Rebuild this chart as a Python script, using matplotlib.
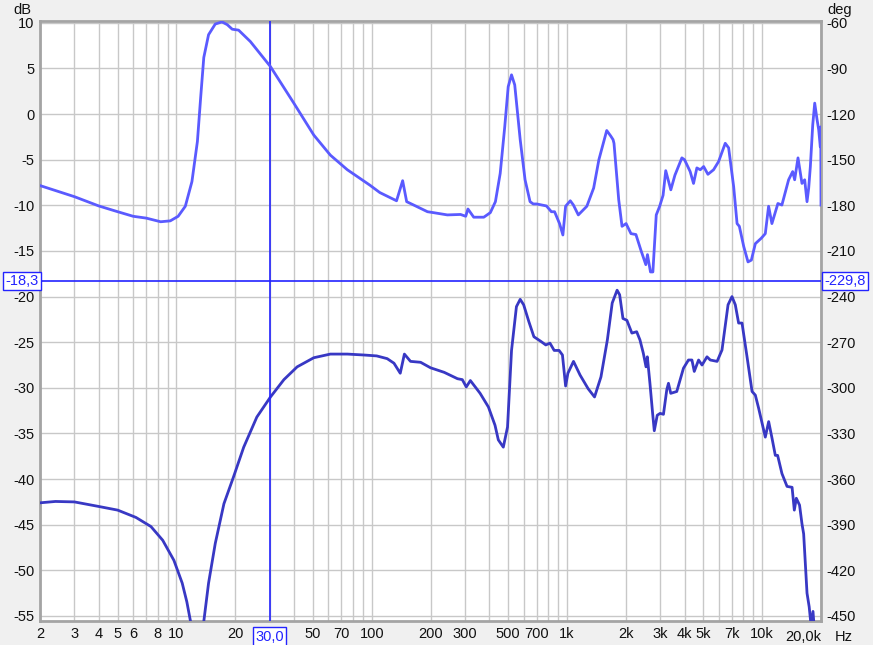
import matplotlib
matplotlib.use("Agg")
from matplotlib import pyplot as plt

# lower trace: magnitude (dB, left axis)
spl_freq = [2.0, 2.4, 3.0, 4.0, 5.0, 6.2, 7.4, 8.5, 9.7, 10.7, 11.3, 11.9, 12.3, 13.2, 13.8,
            14.6, 15.8, 17.5, 19.6, 22.1, 25.8, 30.3, 35.5, 41.5, 50.5, 61.4, 75, 91, 106, 120,
            130, 140, 147, 158, 178, 200, 235, 275, 291, 305, 320, 359, 396, 428, 445, 472,
            496, 520, 551, 576, 600, 638, 677, 734, 779, 818, 860, 911, 948, 984, 1011, 1080,
            1167, 1284, 1384, 1493, 1610, 1705, 1806, 1861, 1935, 2027, 2150, 2275, 2365,
            2460, 2540, 2580, 2660, 2746, 2800, 2900, 3000, 3120, 3245, 3310, 3400, 3650,
            3950, 4190, 4365, 4487, 4721, 4917, 5213, 5420, 5874, 6223, 6683, 7000, 7280,
            7570, 7880, 8360, 8870, 9220, 9590, 10370, 10790, 11220, 11670, 11990, 12620,
            13400, 14220, 14600, 14950, 15530, 15980, 16300, 16960, 17400, 17780, 18200,
            18490, 18600]
spl_db = [-42.6, -42.45, -42.5, -43.0, -43.4, -44.2, -45.2, -46.7, -48.9, -51.4, -53.45, -56.0,
          -60.0, -60.0, -55.6, -51.4, -47.05, -42.7, -39.75, -36.5, -33.2, -31.0, -29.1, -27.7,
          -26.7, -26.3, -26.3, -26.4, -26.5, -26.8, -27.3, -28.4, -26.3, -27.1, -27.2, -27.8,
          -28.3, -29.0, -29.1, -29.9, -29.2, -30.6, -32.1, -34.1, -35.7, -36.5, -34.3, -25.9,
          -21.1, -20.3, -20.9, -22.75, -24.4, -24.9, -25.3, -25.1, -25.9, -25.9, -26.4, -29.8,
          -28.4, -27.1, -28.6, -30.1, -31.0, -28.8, -24.75, -20.7, -19.3, -19.8, -22.4, -22.6,
          -24.0, -23.85, -24.75, -26.2, -27.7, -26.6, -29.5, -32.8, -34.7, -33.0, -32.8, -32.9,
          -30.2, -29.5, -30.6, -30.4, -27.85, -26.95, -26.95, -28.2, -26.95, -27.5, -26.6,
          -26.95, -27.1, -25.85, -20.9, -20.0, -20.9, -22.9, -22.9, -26.6, -30.4, -30.8, -32.25,
          -35.4, -33.7, -35.5, -37.4, -37.4, -39.4, -40.8, -40.9, -43.4, -42.1, -42.85, -44.9,
          -46.0, -52.5, -54.0, -56.0, -54.5, -56.5, -60.0]

# upper trace: phase (deg, right axis)
phase_freq = [2.0, 3.0, 4.0, 5.0, 6.0, 7.0, 8.3, 9.3, 10.2, 11.1, 12.0, 12.8, 13.3, 13.8, 14.6,
              15.8, 17.1, 18.2, 19.3, 20.8, 23.9, 30.3, 39.9, 50.5, 61.4, 75, 98, 110, 134, 144,
              151, 164, 193, 207, 244, 285, 303, 311, 333, 375, 405, 430, 455, 480, 500, 520,
              540, 576, 610, 647, 672, 700, 785, 832, 864, 916, 953, 984, 1040, 1079, 1143,
              1264, 1370, 1457, 1517, 1598, 1675, 1722, 1741, 1841, 1914, 2008, 2127, 2255,
              2390, 2534, 2584, 2677, 2754, 2866, 2984, 3106, 3205, 3403, 3571, 3877, 4000,
              4275, 4448, 4627, 4817, 5012, 5271, 5634, 5978, 6466, 6729, 7140, 7433, 7636,
              8038, 8456, 8798, 9220, 9891, 10370, 10780, 11210, 12030, 12610, 13650, 14320,
              14660, 15250, 15980, 16500, 16960, 17300, 17640, 18140, 18570, 19090, 19460,
              19840, 19950, 20000]
phase_deg = [-167.0, -174.3, -180.4, -184.2, -187.2, -188.4, -190.8, -190.2, -187.2, -180.6,
             -164.4, -138.0, -109.2, -82.8, -67.8, -60.8, -59.4, -61.2, -64.2, -64.8, -72.3,
             -88.8, -112.8, -133.8, -147.0, -156.6, -166.8, -171.6, -177.0, -163.8, -177.6,
             -179.8, -184.2, -184.8, -186.3, -186.0, -187.2, -182.4, -187.8, -187.8, -184.8,
             -177.6, -159.0, -128.4, -102.0, -94.2, -100.8, -136.8, -163.2, -177.6, -179.1,
             -179.1, -180.4, -184.2, -184.2, -192.0, -199.5, -180.6, -177.0, -179.8, -186.3,
             -180.6, -168.6, -150.0, -141.6, -130.8, -134.4, -136.8, -139.2, -176.4, -193.8,
             -192.0, -198.6, -199.2, -209.4, -219.0, -212.4, -223.8, -223.8, -186.3, -180.6,
             -173.4, -157.2, -169.8, -160.2, -148.8, -150.0, -157.8, -165.6, -155.4, -156.6,
             -154.5, -159.6, -156.6, -151.2, -139.2, -142.2, -167.7, -192.0, -193.8, -207.0,
             -217.2, -216.0, -205.2, -201.6, -198.6, -180.6, -192.0, -178.8, -179.8, -163.2,
             -157.8, -163.2, -148.8, -165.6, -163.2, -177.6, -168.6, -154.5, -127.2, -112.8,
             -123.6, -130.2, -141.6, -128.4, -179.8]

x_ticks = [2, 3, 4, 5, 6, 8, 10, 20, 50, 70, 100, 200, 300, 500, 700,
           1000, 2000, 3000, 4000, 5000, 7000, 10000]
x_labels = ["2", "3", "4", "5", "6", "8", "10", "20", "50", "70", "100", "200", "300", "500",
            "700", "1k", "2k", "3k", "4k", "5k", "7k", "10k"]
db_ticks = [10, 5, 0, -5, -10, -15, -20, -25, -30, -35, -40, -45, -50, -55]
deg_ticks = [-60, -90, -120, -150, -180, -210, -240, -270, -300, -330, -360, -390, -420, -450]

cursor_hz = 30.0
cursor_db = -18.3
cursor_deg = -229.8

DB_LIM = (-55.55, 10.2)
CURSOR_BLUE = "#2323ff"
TEXT = "#111111"


def deg_from_db(v):
    return -120 + 6 * v


def main():
    fig = plt.figure(figsize=(8.73, 6.45), dpi=100, facecolor="#f0f0f0")
    ax = fig.add_axes([40 / 873, 1 - 621 / 645, 781 / 873, 600 / 645])
    ax.set_facecolor("white")
    ax.set_xscale("log")
    ax.set_xlim(2, 20000)
    ax.set_ylim(*DB_LIM)

    grid_x = [m * 10 ** e for e in range(0, 5) for m in range(1, 10) if 2 <= m * 10 ** e <= 20000]
    for gx in grid_x:
        ax.axvline(gx, color="#c8c8c8", linewidth=1.0, zorder=0)
    for gy in range(-55, 11, 5):
        ax.axhline(gy, color="#c8c8c8", linewidth=1.0, zorder=0)

    for side in ax.spines.values():
        side.set_color("#a4a4a4")
        side.set_linewidth(2.0)

    ax.plot(spl_freq, spl_db, color="#3838c4", linewidth=2.0, zorder=3, solid_joinstyle="round")

    ax2 = ax.twinx()
    ax2.set_ylim(deg_from_db(DB_LIM[0]), deg_from_db(DB_LIM[1]))
    ax2.plot(phase_freq, phase_deg, color="#5a5aff", linewidth=2.0, zorder=3, solid_joinstyle="round")
    for side in ax2.spines.values():
        side.set_visible(False)

    ax.axvline(cursor_hz, color=CURSOR_BLUE, linewidth=1.2, zorder=4)
    ax.axhline(cursor_db, color=CURSOR_BLUE, linewidth=1.2, zorder=4)

    font = dict(family="Liberation Sans", size=10.5)
    ax.minorticks_off()
    ax.set_xticks(x_ticks)
    ax.set_xticklabels(x_labels, color=TEXT, **font)
    ax.set_yticks(db_ticks)
    ax.set_yticklabels([str(t) for t in db_ticks], color=TEXT, **font)
    ax.tick_params(axis="both", length=0, pad=4)
    ax2.minorticks_off()
    ax2.set_yticks(deg_ticks)
    ax2.set_yticklabels([str(t) for t in deg_ticks], color=TEXT, **font)
    ax2.tick_params(axis="y", length=0, pad=4)

    box = dict(boxstyle="square,pad=0.15", facecolor="white", edgecolor=CURSOR_BLUE, linewidth=1.0)
    ax.text(cursor_hz, -0.026, "30,0", transform=ax.get_xaxis_transform(), ha="center", va="center",
            color=CURSOR_BLUE, bbox=box, zorder=6, clip_on=False, **font)
    ax.text(-0.002, cursor_db, "-18,3", transform=ax.get_yaxis_transform(), ha="right", va="center",
            color=CURSOR_BLUE, bbox=box, zorder=6, clip_on=False, **font)
    ax.text(1.004, cursor_db, f"{cursor_deg:.1f}".replace(".", ","), transform=ax.get_yaxis_transform(),
            ha="left", va="center", color=CURSOR_BLUE, bbox=box, zorder=6, clip_on=False, **font)

    ax.text(1.0, -0.026, "20,0k", transform=ax.transAxes, ha="right", va="center", color=TEXT, **font)
    ax.text(1.018, -0.026, "Hz", transform=ax.transAxes, ha="left", va="center", color=TEXT, **font)
    fig.text(22 / 873, 1 - 10 / 645, "dB", ha="center", va="center", color=TEXT, **font)
    fig.text(840 / 873, 1 - 10 / 645, "deg", ha="center", va="center", color=TEXT, **font)

    fig.savefig("out.png", dpi=100, facecolor=fig.get_facecolor())


if __name__ == "__main__":
    main()
